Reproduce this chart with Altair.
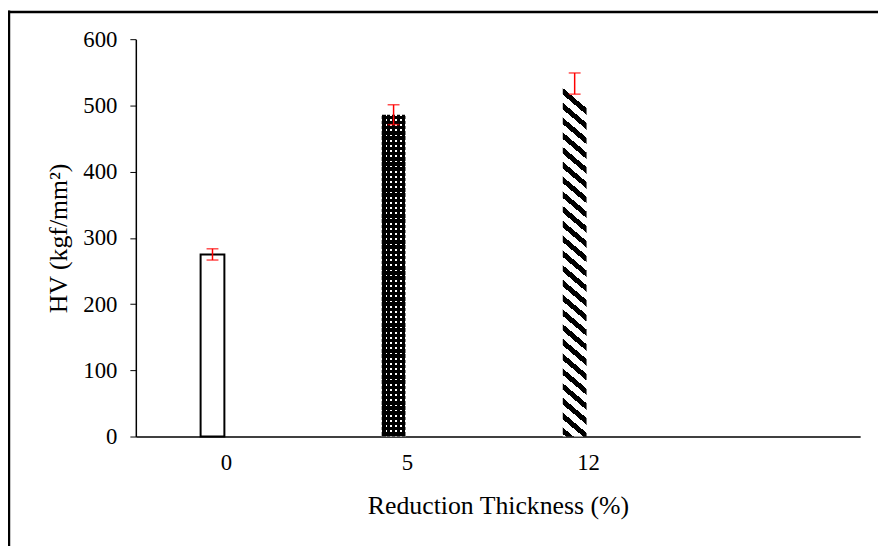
import altair as alt
import pandas as pd

# ---- data ----
categories = ["0", "5", "12"]
hv = [275, 486, 533]
hv_err = [8.5, 15, 16]
y_ticks = [0, 100, 200, 300, 400, 500, 600]

df = pd.DataFrame({
    "cat": categories,
    "hv": hv,
    "lo": [v - e for v, e in zip(hv, hv_err)],
    "hi": [v + e for v, e in zip(hv, hv_err)],
})

x_domain = categories + [" "]
FONT = "Liberation Serif"
W, H = 731, 401
BAR_W = 24
OFF = -14

x_enc = alt.X("cat:N", scale=alt.Scale(domain=x_domain, paddingInner=0, paddingOuter=0),
              sort=x_domain,
              axis=alt.Axis(title="Reduction Thickness (%)", labelAngle=0, ticks=False, tickSize=0,
                            labelPadding=15, titlePadding=19, domainColor="black",
                            domainWidth=1.5))
y_scale = alt.Scale(domain=[0, 600], nice=False)
y_enc = alt.Y("hv:Q", scale=y_scale,
              axis=alt.Axis(title="HV (kgf/mm²)", values=y_ticks, grid=False, tickSize=6,
                            tickColor="black", domainColor="black", domainWidth=1.5,
                            labelPadding=13, titlePadding=11))


def stripes(n, frac_black, x1, y1, x2, y2, c_on="black", c_off="white", phase=0.0):
    stops = []
    for i in range(n):
        a = i / n
        b = (i + phase) / n
        c = (i + phase + frac_black) / n
        d = (i + 1) / n
        stops += [alt.GradientStop(offset=a, color=c_off), alt.GradientStop(offset=b, color=c_off),
                  alt.GradientStop(offset=b, color=c_on), alt.GradientStop(offset=c, color=c_on),
                  alt.GradientStop(offset=c, color=c_off), alt.GradientStop(offset=d, color=c_off)]
    return alt.LinearGradient(gradient="linear", stops=stops, x1=x1, y1=y1, x2=x2, y2=y2)


base = alt.Chart(df)

bar0 = base.transform_filter(alt.datum.cat == "0").mark_bar(
    width=BAR_W, xOffset=OFF, fill="white", stroke="black", strokeWidth=2
).encode(x=x_enc, y=y_enc)

bar5_base = base.transform_filter(alt.datum.cat == "5").mark_bar(
    width=BAR_W, xOffset=OFF, fill="white"
).encode(x=x_enc, y=y_enc)
bar5_h = base.transform_filter(alt.datum.cat == "5").mark_bar(
    width=BAR_W, xOffset=OFF,
    fill=stripes(62, 0.66, 0, 0, 0, 1, c_off="transparent", phase=0.17)
).encode(x=x_enc, y=y_enc)
bar5_v = base.transform_filter(alt.datum.cat == "5").mark_bar(
    width=BAR_W, xOffset=OFF,
    fill=stripes(5, 0.66, 0, 0, 1, 0, c_off="transparent", phase=0.17)
).encode(x=x_enc, y=y_enc)

h12 = 533 * H / 600
dx = -0.85 * BAR_W / h12
bar12 = base.transform_filter(alt.datum.cat == "12").mark_bar(
    width=BAR_W, xOffset=OFF,
    fill=stripes(24, 0.45, 0, 0, dx, 1, phase=0.3)
).encode(x=x_enc, y=y_enc)

err = base.mark_rule(color="red", strokeWidth=1.5, xOffset=OFF).encode(
    x=x_enc, y=alt.Y("lo:Q", scale=y_scale), y2="hi:Q")
cap_hi = base.mark_tick(color="red", size=12, thickness=1.5, xOffset=OFF, orient="horizontal").encode(
    x=x_enc, y=alt.Y("hi:Q", scale=y_scale))
cap_lo = base.mark_tick(color="red", size=12, thickness=1.5, xOffset=OFF, orient="horizontal").encode(
    x=x_enc, y=alt.Y("lo:Q", scale=y_scale))

one = alt.Chart(pd.DataFrame({"a": [0]}))
frame_left = one.mark_rule(color="black", strokeWidth=2.5).encode(
    x=alt.value(-128), y=alt.value(-29), y2=alt.value(520))
frame_top = one.mark_rule(color="black", strokeWidth=2.5).encode(
    x=alt.value(-129), x2=alt.value(760), y=alt.value(-27.5))

chart = alt.layer(
    bar0, bar5_base, bar5_h, bar5_v, bar12, err, cap_hi, cap_lo, frame_left, frame_top
).properties(
    width=W, height=H,
    autosize=alt.AutoSizeParams(type="none"),
    padding={"left": 129, "top": 29, "right": 18, "bottom": 108},
    background="white",
).configure_view(stroke=None).configure_axis(
    labelFont=FONT, titleFont=FONT, labelFontSize=23, titleFontSize=26,
    titleFontWeight="normal", labelColor="black", titleColor="black",
)

chart.save("out.html", embed_options={"renderer": "svg", "actions": False})
